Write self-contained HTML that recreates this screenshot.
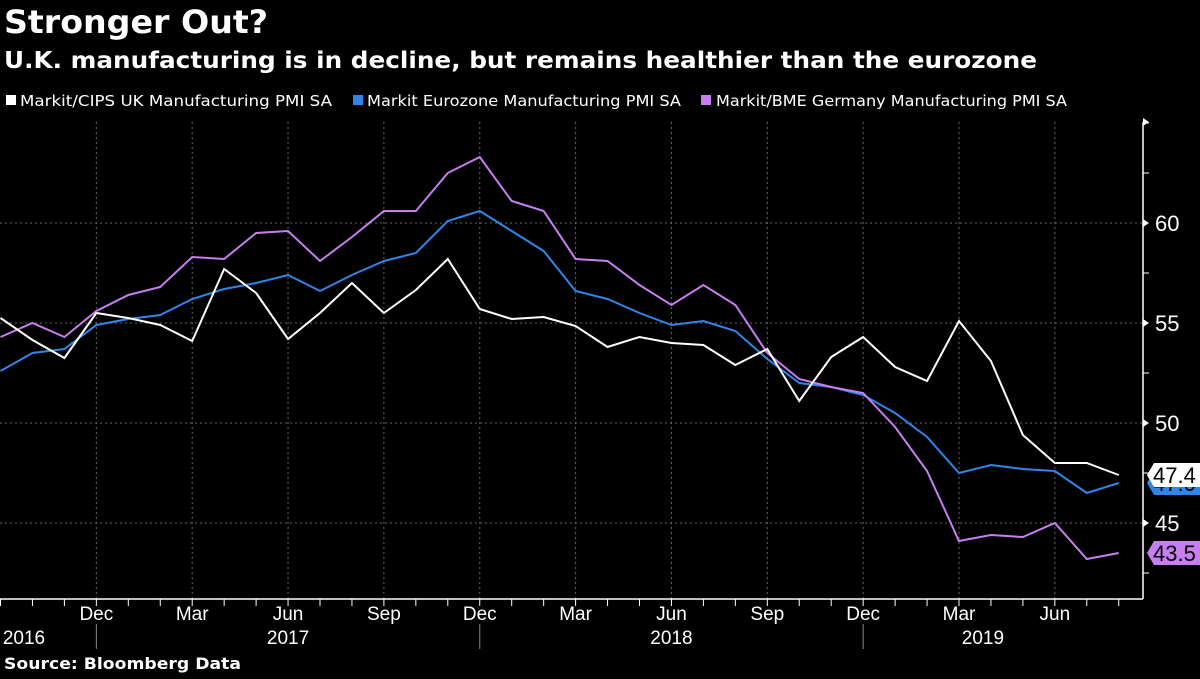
<!DOCTYPE html>
<html><head><meta charset="utf-8"><style>
body{margin:0;background:#000;width:1200px;height:675px;overflow:hidden;font-family:"DejaVu Sans",sans-serif;color:#fff}
svg text{font-family:"Liberation Sans",sans-serif}
svg text.dj{font-family:"DejaVu Sans",sans-serif}
</style></head><body>
<svg id="c" width="1200" height="675">
<text class="dj" x="4" y="33" font-size="32" font-weight="bold" fill="#fff" textLength="264" lengthAdjust="spacingAndGlyphs">Stronger Out?</text>
<text class="dj" x="4" y="68" font-size="23" font-weight="bold" fill="#fff" textLength="1033" lengthAdjust="spacingAndGlyphs">U.K. manufacturing is in decline, but remains healthier than the eurozone</text>
<g font-size="15">
<rect x="6" y="95" width="10" height="10" fill="#fff"/>
<text class="dj" x="20" y="106" fill="#fff" textLength="312" lengthAdjust="spacingAndGlyphs">Markit/CIPS UK Manufacturing PMI SA</text>
<rect x="353" y="95" width="10" height="10" fill="#2f86e8"/>
<text class="dj" x="367" y="106" fill="#fff" textLength="314" lengthAdjust="spacingAndGlyphs">Markit Eurozone Manufacturing PMI SA</text>
<rect x="701" y="95" width="10" height="10" fill="#c77ef0"/>
<text class="dj" x="716" y="106" fill="#fff" textLength="351" lengthAdjust="spacingAndGlyphs">Markit/BME Germany Manufacturing PMI SA</text>
</g>
<g id="plot"></g>
<text class="dj" x="4" y="669" font-size="16" font-weight="bold" fill="#fff" textLength="237" lengthAdjust="spacingAndGlyphs">Source: Bloomberg Data</text>
</svg>
<script>
const uk=[55.25,54.15,53.25,55.5,55.25,54.9,54.1,57.7,56.5,54.2,55.5,57.0,55.5,56.65,58.2,55.7,55.2,55.3,54.85,53.8,54.3,54.0,53.9,52.9,53.7,51.1,53.3,54.3,52.8,52.1,55.1,53.1,49.4,48.0,48.0,47.4];
const ez=[52.6,53.5,53.7,54.9,55.2,55.4,56.2,56.7,57.0,57.4,56.6,57.4,58.1,58.5,60.1,60.6,59.6,58.6,56.6,56.2,55.5,54.9,55.1,54.6,53.2,52.0,51.8,51.4,50.5,49.3,47.5,47.9,47.7,47.6,46.5,47.0];
const de=[54.3,55.0,54.3,55.6,56.4,56.8,58.3,58.2,59.5,59.6,58.1,59.3,60.6,60.6,62.5,63.3,61.1,60.6,58.2,58.1,56.9,55.9,56.9,55.9,53.5,52.2,51.8,51.5,49.8,47.6,44.1,44.4,44.3,45.0,43.2,43.5];
const yTicks=[45,50,55,60];
const monthLabels=["Dec","Mar","Jun","Sep","Dec","Mar","Jun","Sep","Dec","Mar","Jun"];
const monthIdx=[3,6,9,12,15,18,21,24,27,30,33];
const years=["2016","2017","2018","2019"];
const yearSep=[3,15,27];
const X=i=>i*31.95+0.5;
const Y=v=>223+(60-v)*20;
const ns="http://www.w3.org/2000/svg",g=document.getElementById('plot');
function mk(t,a,txt){const e=document.createElementNS(ns,t);for(const k in a)e.setAttribute(k,a[k]);if(txt!=null)e.textContent=txt;g.appendChild(e);return e;}
const R=1143,B=599,T=122;
yTicks.forEach(v=>{
let e=mk('line',{x1:0,x2:R,y1:Y(v),y2:Y(v),stroke:'#666','stroke-dasharray':'2,3'});


e=mk('text',{x:1155,y:Y(v)+8,'font-size':22,fill:'#fff'},v);


mk('path',{d:`M${R} ${Y(v)-4}L${R+6} ${Y(v)}L${R} ${Y(v)+4}Z`,fill:'#fff'});
});
[42.5,47.5,52.5,57.5,62.5,65].forEach(v=>{if(Y(v)>=T)mk('line',{x1:R,x2:R+6,y1:Y(v),y2:Y(v),stroke:'#fff'});});
mk('path',{d:`M${R} ${T-4}L${R+6} ${T}L${R} ${T+4}Z`,fill:'#fff'});
monthIdx.forEach((m,k)=>{
let e=mk('line',{x1:X(m),x2:X(m),y1:T,y2:B,stroke:'#666','stroke-dasharray':'2,3'});


e=mk('text',{x:X(m),y:620,'font-size':19,fill:'#fff','text-anchor':'middle'},monthLabels[k]);


});
for(let i=0;i<36;i++)mk('line',{x1:X(i),x2:X(i),y1:B,y2:B+7,stroke:'#fff'});
yearSep.forEach(m=>mk('line',{x1:X(m),x2:X(m),y1:B+25,y2:B+50,stroke:'#888'}));
const yb=[0,...yearSep,36];
years.forEach((y,k)=>{
const cx=k==0?24:(X(yb[k])+X(Math.min(yb[k+1],35)))/2+(k==3?-8:0);
const e=mk('text',{x:cx,y:644,'font-size':19,fill:'#fff','text-anchor':'middle'},y);


});
mk('line',{x1:0,x2:R,y1:B,y2:B,stroke:'#fff','stroke-width':1.5});
mk('line',{x1:R,x2:R,y1:T,y2:B,stroke:'#fff','stroke-width':1.5});
function series(d,c,n){const e=mk('polyline',{points:d.map((v,i)=>X(i)+','+Y(v)).join(' '),fill:'none',stroke:c,'stroke-width':2});

}
series(ez,'#2f86e8','line-eurozone');
series(de,'#c77ef0','line-germany');
series(uk,'#fff','line-uk');
function tag(v,c,n){const y=Y(v);const e=mk('path',{d:`M${R+4} ${y}L${R+11} ${y-12}H1200V${y+12}H${R+11}Z`,fill:c});


const t=mk('text',{x:1153,y:y+8,'font-size':22,fill:'#000'},v.toFixed(1));

}
tag(ez[35],'#2f86e8','last-value-eurozone');
tag(uk[35],'#fff','last-value-uk');
tag(de[35],'#c77ef0','last-value-germany');
</script>
</body></html>
